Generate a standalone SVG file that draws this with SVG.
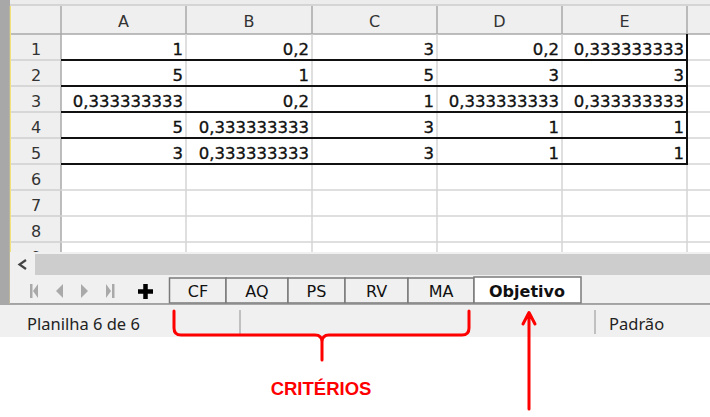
<svg xmlns="http://www.w3.org/2000/svg" width="710" height="417" viewBox="0 0 710 417">
<defs>
<style>
.hdr{font-family:"DejaVu Sans",sans-serif;font-size:16px;fill:#333;text-anchor:middle}
.num{font-family:"DejaVu Sans",sans-serif;font-size:16.5px;fill:#111;stroke:#111;stroke-width:0.35;text-anchor:end}
.tab{font-family:"DejaVu Sans",sans-serif;font-size:16px;fill:#111;text-anchor:middle}
.stat{font-family:"Noto Sans",sans-serif;font-size:16.5px;fill:#222}
.gl{stroke:#d4d4d4;stroke-width:1.5}
.hl{stroke:#a8a8a8;stroke-width:1.5}
.bl{stroke:#111;stroke-width:2}
.tabr{fill:#f0f0f0;stroke:#7a7a7a;stroke-width:1.5}
.nav{fill:#a9a9a9}
.red{stroke:#ff0000;stroke-width:3;fill:none;stroke-linecap:round;stroke-linejoin:round}
</style>
<clipPath id="gridclip"><rect x="0" y="0" width="710" height="252"/></clipPath>
</defs>
<rect x="0" y="0" width="710" height="417" fill="#ffffff"/>
<g id="frame">
<rect x="0" y="0" width="710" height="6" fill="#ececec"/>
<line x1="10" y1="5" x2="710" y2="5" stroke="#bdbdbd" stroke-width="1"/>
<rect x="0" y="0" width="10" height="305" fill="#a8a8a8"/>
<line x1="10.5" y1="6" x2="10.5" y2="304" stroke="#f2e27a" stroke-width="1.5"/>
</g>
<g id="headers">
<rect x="11" y="6" width="699" height="28" fill="#efefef"/>
<rect x="11" y="34" width="50" height="218" fill="#efefef"/>
<g class="hl">
<line x1="61" y1="6" x2="61" y2="252"/>
<line x1="186" y1="6" x2="186" y2="34"/>
<line x1="312" y1="6" x2="312" y2="34"/>
<line x1="437" y1="6" x2="437" y2="34"/>
<line x1="562" y1="6" x2="562" y2="34"/>
<line x1="687" y1="6" x2="687" y2="34"/>
<line x1="11" y1="34" x2="710" y2="34"/>
</g>
<g stroke="#cfcfcf" stroke-width="1.5">
<line x1="11" y1="60" x2="61" y2="60"/>
<line x1="11" y1="86" x2="61" y2="86"/>
<line x1="11" y1="112" x2="61" y2="112"/>
<line x1="11" y1="138" x2="61" y2="138"/>
<line x1="11" y1="164" x2="61" y2="164"/>
<line x1="11" y1="190" x2="61" y2="190"/>
<line x1="11" y1="216" x2="61" y2="216"/>
<line x1="11" y1="242" x2="61" y2="242"/>
</g>
<text class="hdr" x="123.5" y="27">A</text>
<text class="hdr" x="249" y="27">B</text>
<text class="hdr" x="374.5" y="27">C</text>
<text class="hdr" x="499.5" y="27">D</text>
<text class="hdr" x="624.5" y="27">E</text>
<text class="hdr" x="36" y="55">1</text>
<text class="hdr" x="36" y="81">2</text>
<text class="hdr" x="36" y="107">3</text>
<text class="hdr" x="36" y="133">4</text>
<text class="hdr" x="36" y="159">5</text>
<text class="hdr" x="36" y="185">6</text>
<text class="hdr" x="36" y="211">7</text>
<text class="hdr" x="36" y="237">8</text>
<text class="hdr" x="36" y="263" clip-path="url(#gridclip)">9</text>
</g>
<g id="grid">
<g class="gl">
<line x1="186" y1="34" x2="186" y2="252"/>
<line x1="312" y1="34" x2="312" y2="252"/>
<line x1="437" y1="34" x2="437" y2="252"/>
<line x1="562" y1="34" x2="562" y2="252"/>
<line x1="687" y1="164" x2="687" y2="252"/>
<line x1="61" y1="190" x2="710" y2="190"/>
<line x1="61" y1="216" x2="710" y2="216"/>
<line x1="61" y1="242" x2="710" y2="242"/>
<line x1="688" y1="60" x2="710" y2="60"/>
<line x1="688" y1="86" x2="710" y2="86"/>
<line x1="688" y1="112" x2="710" y2="112"/>
<line x1="688" y1="138" x2="710" y2="138"/>
<line x1="688" y1="164" x2="710" y2="164"/>
</g>
<g class="bl">
<line x1="61" y1="60" x2="688" y2="60"/>
<line x1="61" y1="86" x2="688" y2="86"/>
<line x1="61" y1="112" x2="688" y2="112"/>
<line x1="61" y1="138" x2="688" y2="138"/>
<line x1="61" y1="164" x2="688" y2="164"/>
<line x1="687" y1="34" x2="687" y2="165"/>
</g>
</g>
<g id="cells">
<text class="num" x="183" y="55">1</text>
<text class="num" x="309" y="55">0,2</text>
<text class="num" x="434" y="55">3</text>
<text class="num" x="559" y="55">0,2</text>
<text class="num" x="684" y="55">0,333333333</text>
<text class="num" x="183" y="81">5</text>
<text class="num" x="309" y="81">1</text>
<text class="num" x="434" y="81">5</text>
<text class="num" x="559" y="81">3</text>
<text class="num" x="684" y="81">3</text>
<text class="num" x="183" y="107">0,333333333</text>
<text class="num" x="309" y="107">0,2</text>
<text class="num" x="434" y="107">1</text>
<text class="num" x="559" y="107">0,333333333</text>
<text class="num" x="684" y="107">0,333333333</text>
<text class="num" x="183" y="133">5</text>
<text class="num" x="309" y="133">0,333333333</text>
<text class="num" x="434" y="133">3</text>
<text class="num" x="559" y="133">1</text>
<text class="num" x="684" y="133">1</text>
<text class="num" x="183" y="159">3</text>
<text class="num" x="309" y="159">0,333333333</text>
<text class="num" x="434" y="159">3</text>
<text class="num" x="559" y="159">1</text>
<text class="num" x="684" y="159">1</text>
</g>
<g id="scrollbar">
<rect x="10" y="252" width="700" height="23" fill="#f0f0f0"/>
<rect x="35" y="254" width="675" height="21" fill="#cdcdcd"/>
<path d="M26,260 L19.5,264.5 L26,269" fill="none" stroke="#444" stroke-width="2.2"/>
</g>
<g id="tabbar">
<rect x="10" y="275" width="700" height="29" fill="#f0f0f0"/>
<rect class="nav" x="30" y="284" width="2.5" height="14"/>
<path class="nav" d="M38,284 L33,291 L38,298 Z"/>
<path class="nav" d="M63,284 L56,291 L63,298 Z"/>
<path class="nav" d="M81,284 L88,291 L81,298 Z"/>
<path class="nav" d="M106,284 L111,291 L106,298 Z"/>
<rect class="nav" x="112" y="284" width="2.5" height="14"/>
<path d="M145.5,284 V299 M138,291.5 H153" stroke="#000" stroke-width="4.5"/>
<g id="tab-cf"><rect class="tabr" x="169.5" y="278" width="56.5" height="25"/><text class="tab" x="198" y="297">CF</text></g>
<g id="tab-aq"><rect class="tabr" x="226" y="278" width="62" height="25"/><text class="tab" x="257" y="297">AQ</text></g>
<g id="tab-ps"><rect class="tabr" x="288" y="278" width="57" height="25"/><text class="tab" x="316.5" y="297">PS</text></g>
<g id="tab-rv"><rect class="tabr" x="345" y="278" width="63" height="25"/><text class="tab" x="376.5" y="297">RV</text></g>
<g id="tab-ma"><rect class="tabr" x="408" y="278" width="66" height="25"/><text class="tab" x="441" y="297">MA</text></g>
<g id="tab-objetivo"><rect x="474" y="277" width="107" height="26" fill="#ffffff" stroke="#7a7a7a" stroke-width="1.5"/><text class="tab" x="527" y="297" font-weight="bold" font-size="15">Objetivo</text></g>
<line x1="10" y1="304" x2="710" y2="304" stroke="#8a8a8a" stroke-width="1.5"/>
</g>
<g id="statusbar">
<rect x="0" y="305" width="710" height="32" fill="#f0f0f0"/>
<line x1="240" y1="310" x2="240" y2="334" stroke="#b0b0b0" stroke-width="1.5"/>
<line x1="595" y1="310" x2="595" y2="334" stroke="#b0b0b0" stroke-width="1.5"/>
<text class="stat" x="27" y="330">Planilha 6 de 6</text>
<text class="stat" x="609" y="330">Padrão</text>
</g>
<g id="connectors">
<path class="red" d="M174,311 V328 Q174,335 181,335 H315 Q322,335 322,342 V360 M322,342 Q322,335 329,335 H462 Q469,335 469,328 V311"/>
<path class="red" d="M529,409 V313 M523,324 L529,312.5 L535,324"/>
</g>
<g id="label-criterios">
<text x="321" y="395" font-family="Liberation Sans, Arial, sans-serif" font-size="18.5" font-weight="bold" fill="#ff0000" text-anchor="middle">CRITÉRIOS</text>
</g>
</svg>
